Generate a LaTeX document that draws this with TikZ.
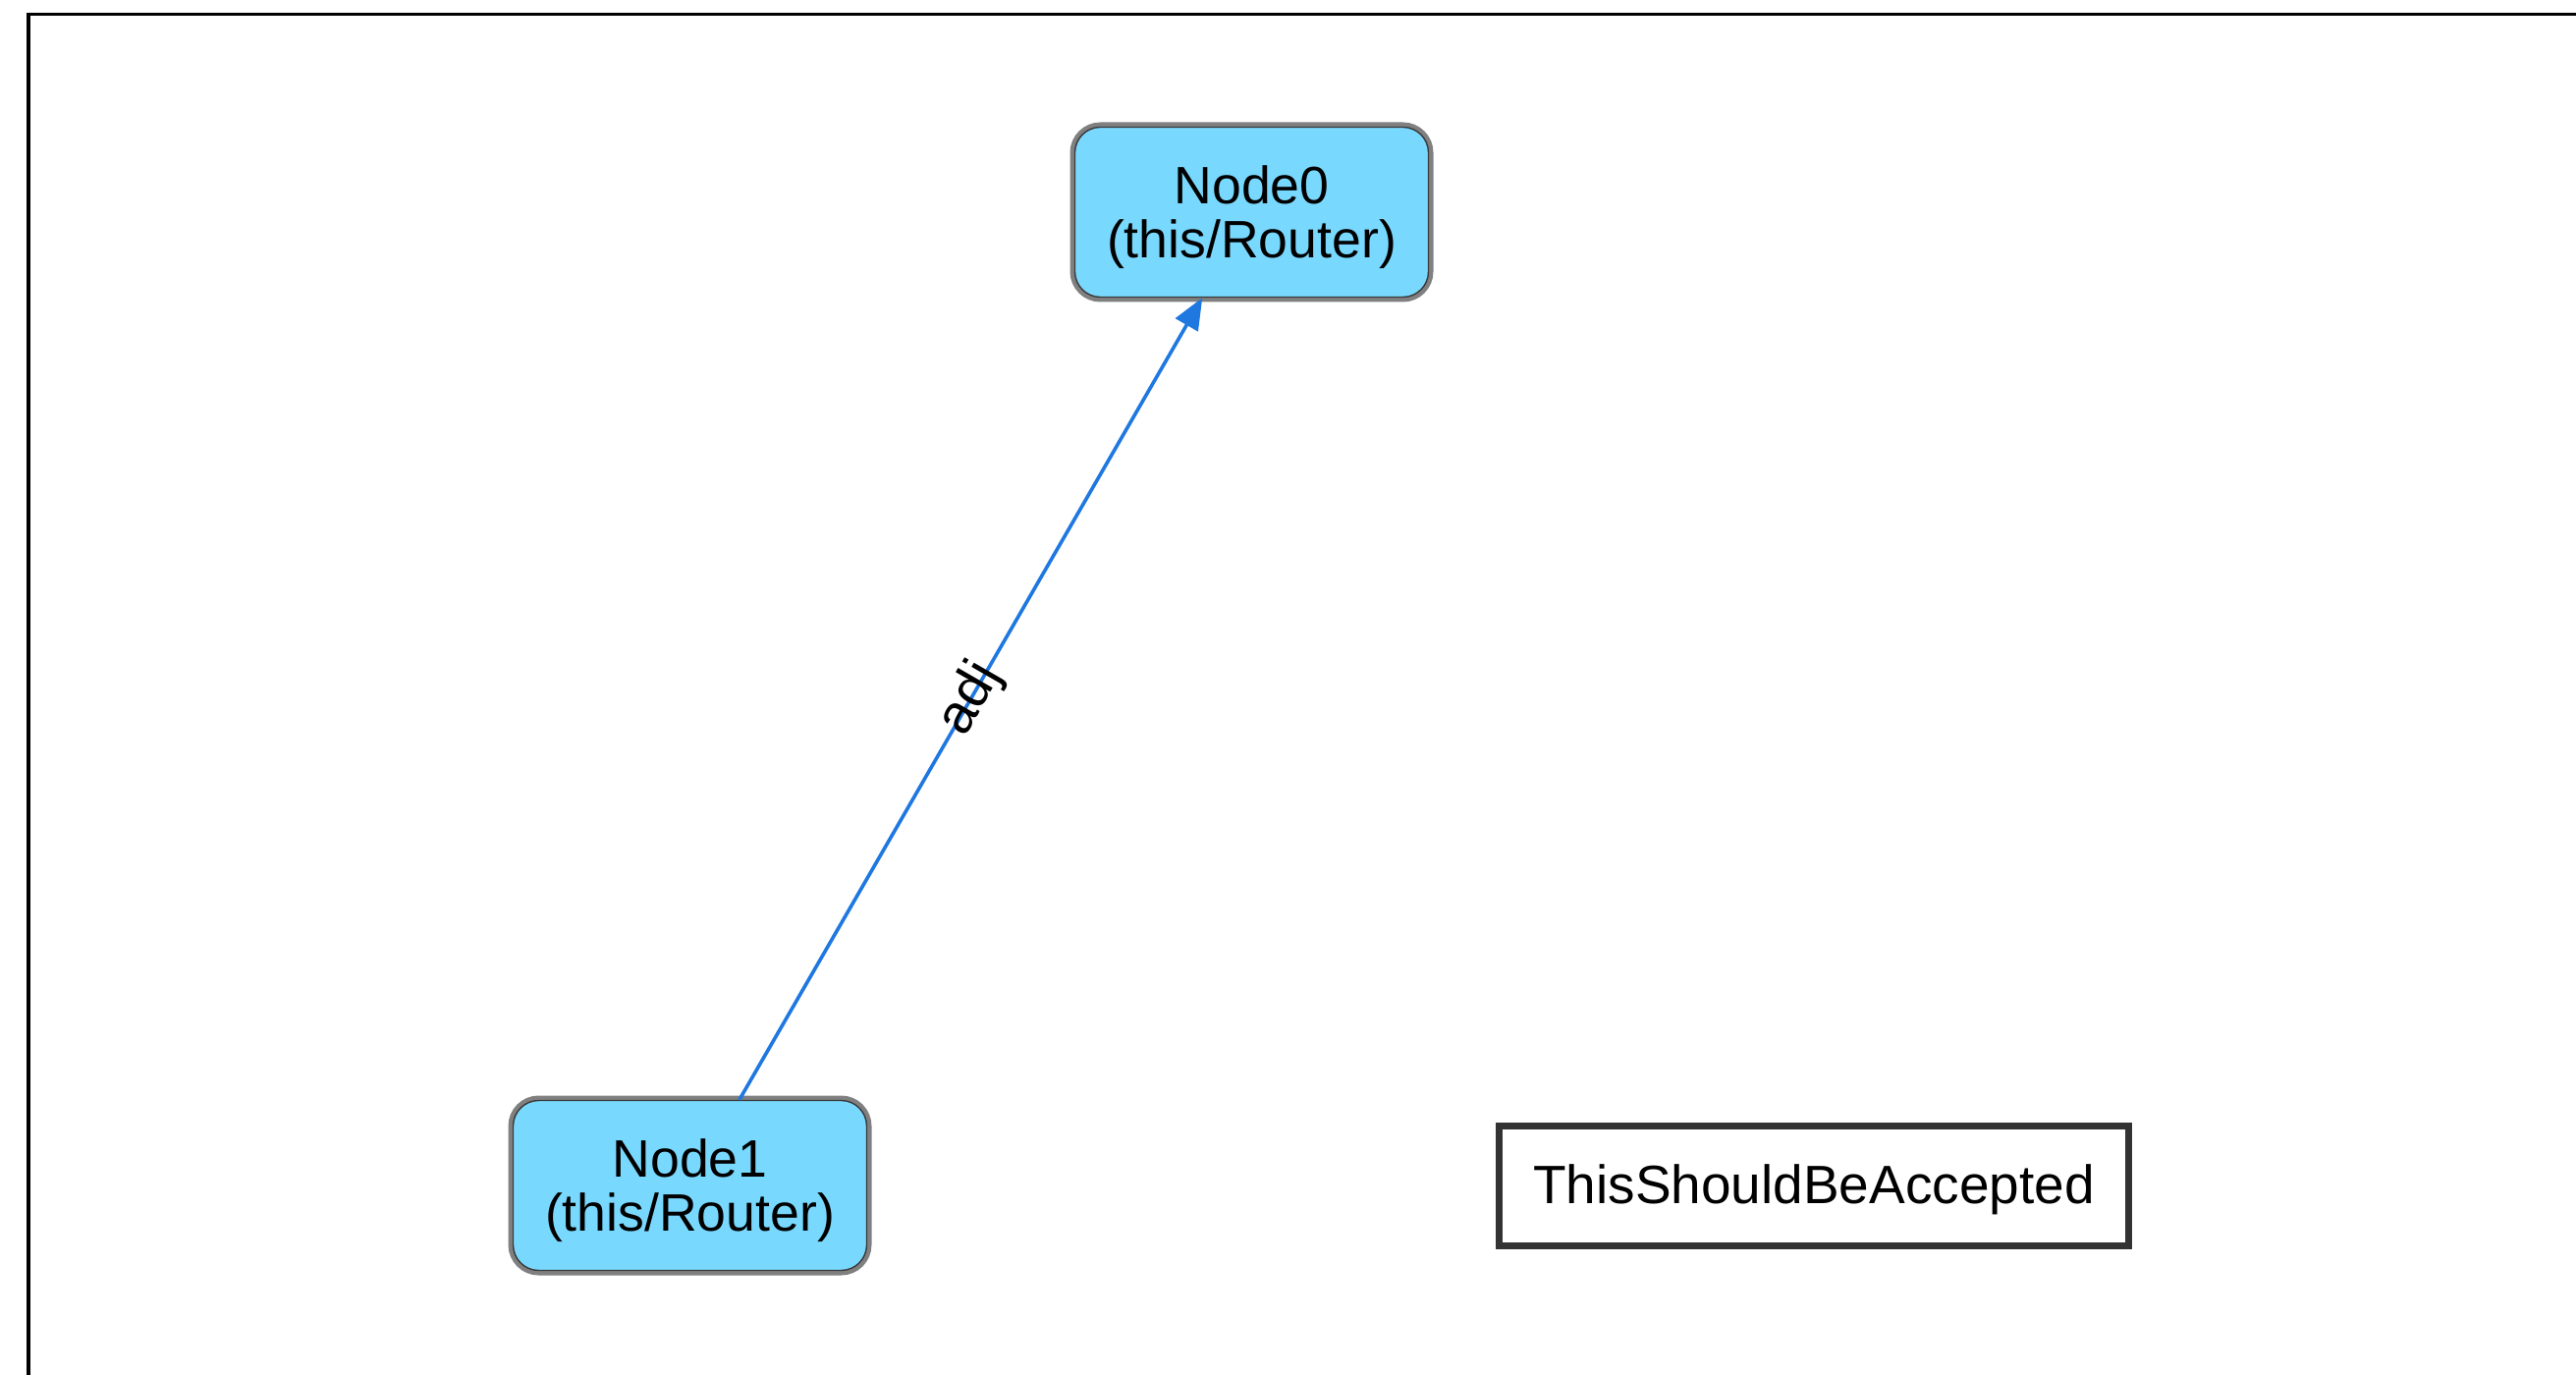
\documentclass[tikz,border=0pt]{standalone}
\usepackage{fontspec}
\setmainfont{Liberation Sans}
\usetikzlibrary{arrows.meta}
\definecolor{routerfill}{HTML}{79D8FE}
\definecolor{routerring}{HTML}{808080}
\definecolor{routeredge}{HTML}{3A3A3A}
\definecolor{edgeblue}{HTML}{1F78E0}
\definecolor{boxedge}{HTML}{333333}
\tikzset{
  router/.style={
    rectangle, rounded corners=13pt, fill=routerfill,
    draw=routeredge, line width=0.7pt,
    preaction={draw=routerring, line width=5pt},
    minimum width=180pt, minimum height=86.5pt, inner sep=0pt,
    text depth=0.5pt,
    align=center, font=\fontsize{26.8pt}{27.5pt}\selectfont
  },
  plainbox/.style={
    rectangle, draw=boxedge, line width=3.5pt, fill=white,
    minimum width=320.5pt, minimum height=61pt, inner sep=0pt,
    text depth=2pt,
    font=\fontsize{27.5pt}{29pt}\selectfont
  },
  link/.style={draw=edgeblue, line width=1.8pt,
    -{Triangle[length=16pt,width=13pt]}},
  linklabel/.style={sloped, inner sep=0pt, font=\fontsize{28pt}{29pt}\selectfont}
}
\begin{document}
\begin{tikzpicture}[x=0.5pt, y=-0.5pt]
  \useasboundingbox (0,0) rectangle (2623,1400);
  % outer frame, running past the right and bottom edges
  \begin{scope}
    \clip (0,0) rectangle (2623,1400);
    \draw[black, line width=1.6pt] (29,14.5) rectangle (2800,1600);
  \end{scope}

  \node[router] (n0) at (1274.5,216) {Node0\\(this/Router)};
  \node[router] (n1) at (702.5,1207) {Node1\\(this/Router)};
  \node[plainbox] (acc) at (1847,1207.5) {ThisShouldBeAccepted};

  \draw[link] (n1) -- node[linklabel] {adj} (n0);
\end{tikzpicture}
\end{document}
